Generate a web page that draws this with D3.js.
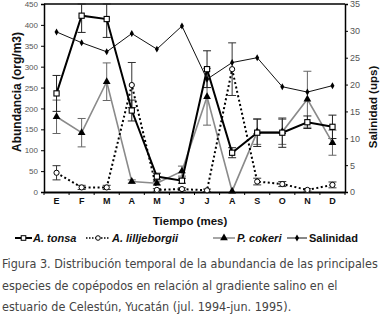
<!DOCTYPE html>
<html>
<head>
<meta charset="utf-8">
<script src="https://cdn.jsdelivr.net/npm/d3@7"></script>
<style>
body{margin:0;background:#fff;}
svg{display:block;font-family:"Liberation Sans",Arial,sans-serif;}
</style>
</head>
<body>
<script>
// meses (ene-dic)
var months = ["E","F","M","A","M","J","J","A","S","O","N","D"];
var abTicks = [0,50,100,150,200,250,300,350,400,450];
var salTicks = [0,5,10,15,20,25,30,35];

var tonsa = [236, 422, 414, 195, 37, 27, 294, 94, 142, 142, 167, 156];
var tonsaErr = [43, 40, 44, 25, 8, 6, 44, 12, 33, 35, 15, 28];
var lill = [46, 11, 11, 256, 5, 7, 4, 294, 25, 19, 5, 17];
var lillErr = [17, 5, 5, 54, 3, 3, 3, 63, 8, 6, 3, 7];
var cokeri = [180, 142, 264, 25, 21, 50, 228, 2, 144, 144, 222, 118];
var cokeriErr = [40, 34, 45, 4, 4, 12, 68, 0, 30, 30, 67, 30];
var salinidad = [29.8, 27.8, 26.1, 29.5, 26.6, 30.9, 21.0, 24.1, 25.0, 19.6, 18.6, 19.8];

var W = 381, H = 316;
var pLeft = 44, pRight = 345, pTop = 4, pBottom = 192;

var svg = d3.select("body").append("svg").attr("width", W).attr("height", H);

var x = d3.scaleBand().domain(d3.range(12)).range([pLeft, pRight]);
var xc = function(i){ return x(i) + x.bandwidth()/2; };
var y = d3.scaleLinear().domain([0,450]).range([pBottom, pTop]).clamp(true);
var y2 = d3.scaleLinear().domain([0,35]).range([pBottom, pTop]);

// marco
svg.append("line").attr("x1",pLeft).attr("x2",pRight).attr("y1",pTop).attr("y2",pTop)
   .attr("stroke","#000").attr("stroke-width",1.5);

// eje izquierdo
var ya = svg.append("g").attr("transform","translate("+pLeft+",0)")
  .call(d3.axisLeft(y).tickValues(abTicks).tickSize(3).tickPadding(3));
ya.select(".domain").attr("stroke-width",1.5);
ya.selectAll("text").attr("font-size","8px").attr("fill","#555");

var yb = svg.append("g").attr("transform","translate("+pRight+",0)")
  .call(d3.axisRight(y2).tickValues(salTicks).tickSize(3).tickPadding(2));
yb.select(".domain").attr("stroke-width",1.5);
yb.selectAll("text").attr("font-size","9px").attr("fill","#555");

// eje x
var xa = svg.append("g").attr("transform","translate(0,"+pBottom+")")
  .call(d3.axisBottom(x).tickSize(0).tickPadding(6).tickFormat(function(i){ return months[i]; }));
xa.select(".domain").attr("stroke-width",2.2);
xa.selectAll("text").attr("font-size","9px").attr("font-weight","bold").attr("fill","#111");
svg.append("g").selectAll("line").data(d3.range(13)).enter().append("line")
  .attr("x1", function(i){ return pLeft + i*x.bandwidth(); })
  .attr("x2", function(i){ return pLeft + i*x.bandwidth(); })
  .attr("y1", pBottom).attr("y2", pBottom+3).attr("stroke","#000");

// titulos de ejes
svg.append("text").attr("transform","translate(21,92) rotate(-90)")
  .attr("text-anchor","middle").attr("font-size","12px").attr("font-weight","bold")
  .attr("fill","#111").text("Abundancia (org/m3)");
svg.append("text").attr("transform","translate(377,107) rotate(-90)")
  .attr("text-anchor","middle").attr("font-size","11.5px").attr("font-weight","bold")
  .attr("fill","#111").text("Salinidad (ups)");
svg.append("text").attr("x",190).attr("y",225).attr("text-anchor","middle")
  .attr("font-size","11.5px").attr("font-weight","bold").attr("fill","#111").text("Tiempo (mes)");

function errbars(vals, errs, color){
  var g = svg.append("g").attr("stroke",color).attr("stroke-width",1);
  vals.forEach(function(v,i){
    if (errs[i] <= 0) return;
    var cx = xc(i);
    g.append("line").attr("x1",cx).attr("x2",cx).attr("y1",y(v+errs[i])).attr("y2",y(v-errs[i]));
    g.append("line").attr("x1",cx-4).attr("x2",cx+4).attr("y1",y(v+errs[i])).attr("y2",y(v+errs[i]));
    g.append("line").attr("x1",cx-4).attr("x2",cx+4).attr("y1",y(v-errs[i])).attr("y2",y(v-errs[i]));
  });
}

errbars(cokeri, cokeriErr, "#666");
errbars(lill, lillErr, "#333");
errbars(tonsa, tonsaErr, "#222");

var line = d3.line().x(function(d,i){ return xc(i); }).y(function(d){ return y(d); });
var line2 = d3.line().x(function(d,i){ return xc(i); }).y(function(d){ return y2(d); });

// P. cokeri
svg.append("path").datum(cokeri).attr("d",line).attr("fill","none")
  .attr("stroke","#8a8a8a").attr("stroke-width",1.6);
// A. lilljeborgii
svg.append("path").datum(lill).attr("d",line).attr("fill","none")
  .attr("stroke","#000").attr("stroke-width",2).attr("stroke-dasharray","2,2.5");
// A. tonsa
svg.append("path").datum(tonsa).attr("d",line).attr("fill","none")
  .attr("stroke","#000").attr("stroke-width",2);
// Salinidad
svg.append("path").datum(salinidad).attr("d",line2).attr("fill","none")
  .attr("stroke","#111").attr("stroke-width",1);

var tri = d3.symbol().type(d3.symbolTriangle).size(26);
var dia = d3.symbol().type(d3.symbolDiamond).size(14);

svg.append("g").selectAll("path").data(cokeri).enter().append("path")
  .attr("d",tri).attr("transform",function(d,i){ return "translate("+xc(i)+","+y(d)+")"; })
  .attr("fill","#000");
svg.append("g").selectAll("circle").data(lill).enter().append("circle")
  .attr("cx",function(d,i){ return xc(i); }).attr("cy",function(d){ return y(d); })
  .attr("r",2.6).attr("fill","#fff").attr("stroke","#000").attr("stroke-width",1);
svg.append("g").selectAll("rect").data(tonsa).enter().append("rect")
  .attr("x",function(d,i){ return xc(i)-2.6; }).attr("y",function(d){ return y(d)-2.6; })
  .attr("width",5.2).attr("height",5.2).attr("fill","#fff").attr("stroke","#000").attr("stroke-width",1.1);
svg.append("g").selectAll("path").data(salinidad).enter().append("path")
  .attr("d",dia).attr("transform",function(d,i){ return "translate("+xc(i)+","+y2(d)+")"; })
  .attr("fill","#000");

// leyenda
var ly = 238;
var leg = svg.append("g");
function legItem(x0, x1, tx, label, italic, kind){
  var l = leg.append("line").attr("x1",x0).attr("x2",x1).attr("y1",ly).attr("y2",ly);
  var mx = (x0+x1)/2;
  if (kind=="tonsa"){
    l.attr("stroke","#000").attr("stroke-width",2);
    leg.append("rect").attr("x",mx-2.3).attr("y",ly-2.3).attr("width",4.6).attr("height",4.6)
      .attr("fill","#fff").attr("stroke","#000");
  } else if (kind=="lill"){
    l.attr("stroke","#000").attr("stroke-width",1.5).attr("stroke-dasharray","1.5,1.5");
    leg.append("circle").attr("cx",mx).attr("cy",ly).attr("r",2.3).attr("fill","#fff").attr("stroke","#000");
  } else if (kind=="cok"){
    l.attr("stroke","#888").attr("stroke-width",1.5);
    leg.append("path").attr("d",tri).attr("transform","translate("+mx+","+ly+")").attr("fill","#000");
  } else {
    l.attr("stroke","#111").attr("stroke-width",1);
    leg.append("path").attr("d",dia).attr("transform","translate("+mx+","+ly+")").attr("fill","#000");
  }
  leg.append("text").attr("x",tx).attr("y",ly+4).attr("font-size","11px").attr("font-weight","bold")
    .attr("font-style", italic ? "italic" : "normal").attr("fill","#111").text(label);
}
legItem(15, 32, 33, "A. tonsa", true, "tonsa");
legItem(86, 110, 112, "A. lilljeborgii", true, "lill");
legItem(213, 235, 237, "P. cokeri", true, "cok");
legItem(287, 307, 309, "Salinidad", false, "sal");

// pie de figura
var caption = ["Figura 3. Distribución temporal de la abundancia de las principales",
               "especies de copépodos en relación al gradiente salino en el",
               "estuario de Celestún, Yucatán (jul. 1994-jun. 1995)."];
var cap = svg.append("g").selectAll("text").data(caption).enter().append("text")
  .attr("x",0).attr("y",0)
  .attr("font-family","'DejaVu Sans Condensed','Liberation Sans Narrow',sans-serif")
  .attr("font-size","13px").attr("fill","#444")
  .text(function(d){ return d; });
// misma compresion horizontal para las tres lineas (la primera ocupa todo el ancho)
var k = 376 / cap.nodes()[0].getComputedTextLength();
cap.attr("transform", function(d,i){ return "translate(2," + (268 + i*21.5) + ") scale(" + k + ",1)"; });
</script>
</body>
</html>
